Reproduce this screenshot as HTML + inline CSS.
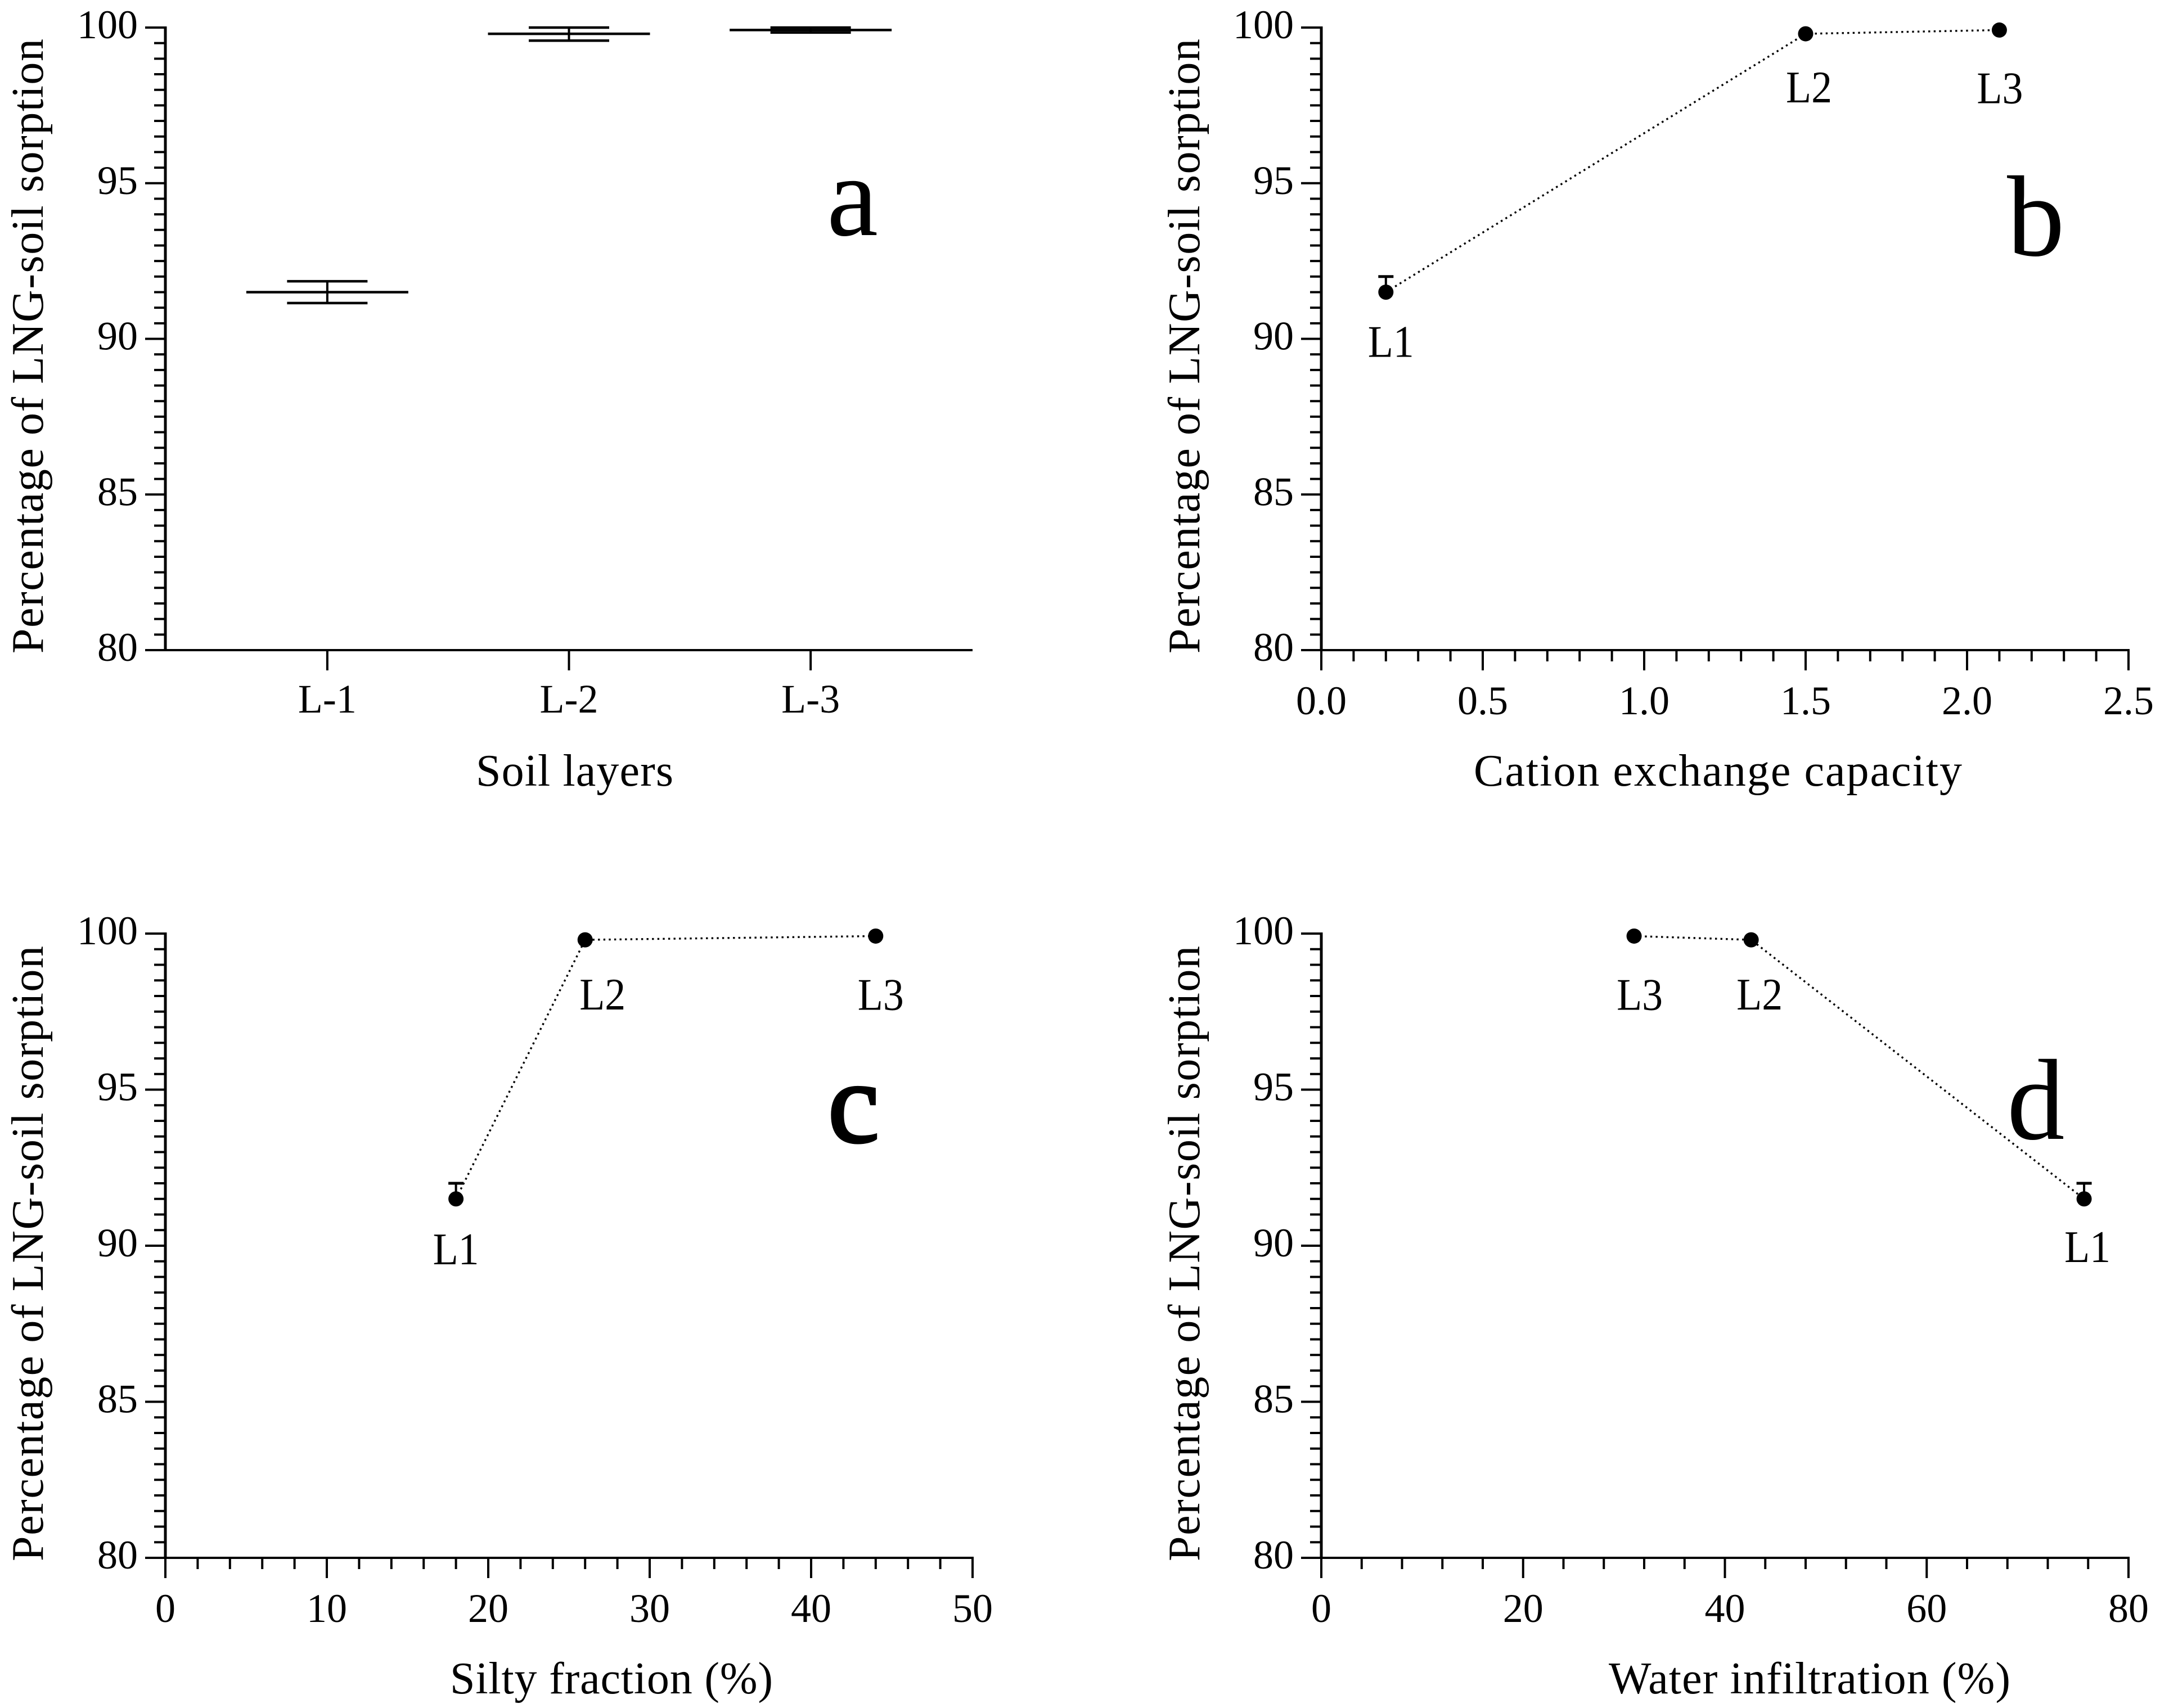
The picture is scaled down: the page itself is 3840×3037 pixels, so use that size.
<!DOCTYPE html>
<html lang="en">
<head>
<meta charset="utf-8">
<title>LNG-soil sorption charts</title>
<style>
html,body{margin:0;padding:0;background:#fff;}
svg{display:block;}
text{font-family:"Liberation Serif",serif;fill:#000;}
.tick-label{font-size:72px;}
.axis-title,.point-label{font-size:80px;}
.panel-letter{font-size:205px;}
</style>
</head>
<body>
<svg id="figure" xmlns="http://www.w3.org/2000/svg" width="3840" height="3037" viewBox="0 0 3840 3037">
<rect x="0" y="0" width="3840" height="3037" fill="#fff"/>

<g id="panel-a">
  <text class="axis-title" transform="translate(76,1162) rotate(-90)" textLength="1093" lengthAdjust="spacing">Percentage of LNG-soil sorption</text>
  <text class="axis-title" x="846" y="1397" textLength="351" lengthAdjust="spacing">Soil layers</text>
  <text class="panel-letter" x="1470" y="418">a</text>
</g>
<g id="panel-b">
  <text class="axis-title" transform="translate(2132,1162) rotate(-90)" textLength="1093" lengthAdjust="spacing">Percentage of LNG-soil sorption</text>
  <text class="axis-title" x="2620" y="1397" textLength="868" lengthAdjust="spacing">Cation exchange capacity</text>
  <text class="panel-letter" x="3568" y="454">b</text>
</g>
<g id="panel-c">
  <text class="axis-title" transform="translate(76,2776) rotate(-90)" textLength="1094" lengthAdjust="spacing">Percentage of LNG-soil sorption</text>
  <text class="axis-title" x="800" y="3011" textLength="574" lengthAdjust="spacing">Silty fraction (%)</text>
  <text class="panel-letter" x="1472" y="2030" stroke="#000" stroke-width="5">c</text>
</g>
<g id="panel-d">
  <text class="axis-title" transform="translate(2132,2776) rotate(-90)" textLength="1094" lengthAdjust="spacing">Percentage of LNG-soil sorption</text>
  <text class="axis-title" x="2860" y="3011" textLength="714" lengthAdjust="spacing">Water infiltration (%)</text>
  <text class="panel-letter" x="3568" y="2025">d</text>
</g>
</svg>

<script>
// ---- chart data ----
const yTickValues = [80, 85, 90, 95, 100];
const layerCategories = ['L-1', 'L-2', 'L-3'];
const layerMeans = [91.5, 99.8, 99.92];
const layerUpperCaps = [91.85, 100, 100];
const layerLowerCaps = [91.15, 99.58, 99.84];

const pointLabels = ['L1', 'L2', 'L3'];
const sorptionValues = [91.5, 99.8, 99.92];
const sorptionUpperErrors = [92, null, null];

const cationValues = [0.2, 1.5, 2.1];
const cationTicks = ['0.0', '0.5', '1.0', '1.5', '2.0', '2.5'];

const siltValues = [18, 26, 44];
const siltTicks = ['0', '10', '20', '30', '40', '50'];

const infiltrationValues = [75.6, 42.6, 31.0];
const infiltrationTicks = ['0', '20', '40', '60', '80'];

// ---- drawing ----
const NS = 'http://www.w3.org/2000/svg';
const AXIS_W = 4, MAJOR = 36, MINOR = 20;

function mk(parent, tag, attrs, txt) {
  const el = document.createElementNS(NS, tag);
  for (const k in attrs) el.setAttribute(k, attrs[k]);
  if (txt !== undefined) el.textContent = txt;
  parent.appendChild(el);
  return el;
}
function seg(parent, x1, y1, x2, y2, w) {
  return mk(parent, 'line', {x1: x1, y1: y1, x2: x2, y2: y2, stroke: '#000', 'stroke-width': w});
}

function drawAxes(g, box, xScale, xMajor, xLabels, xMinorPerMajor, yScale) {
  const axisY = seg(g, box.x0, box.yTop - AXIS_W / 2, box.x0, box.yBottom + AXIS_W / 2, 5);
  
  
  const axisX = seg(g, box.x0 - MAJOR, box.yBottom, box.x1 + (xMinorPerMajor ? AXIS_W / 2 : 0), box.yBottom, AXIS_W);
  
  

  // y ticks: major at each label, minor every half unit
  for (let i = 0; i < yTickValues.length; i++) {
    const v = yTickValues[i];
    const tick = seg(g, box.x0 - MAJOR, yScale(v), box.x0, yScale(v), AXIS_W);
    
    
    const label = mk(g, 'text', {class: 'tick-label', x: box.x0 - 49, y: yScale(v) + 19, 'text-anchor': 'end'}, String(v));
    
    
    if (i < yTickValues.length - 1) {
      const step = (yTickValues[i + 1] - v) / 10;
      for (let m = 1; m < 10; m++) {
        const minor = seg(g, box.x0 - MINOR, yScale(v + m * step), box.x0, yScale(v + m * step), AXIS_W);
        
        
      }
    }
  }
  // x ticks
  const labelDrop = xMinorPerMajor ? 114 : 111;
  for (let i = 0; i < xMajor.length; i++) {
    const px = xScale(xMajor[i]);
    const tick = seg(g, px, box.yBottom, px, box.yBottom + MAJOR, AXIS_W);
    
    
    const label = mk(g, 'text', {class: 'tick-label', x: px, y: box.yBottom + labelDrop, 'text-anchor': 'middle'}, xLabels[i]);
    
    
    if (xMinorPerMajor && i < xMajor.length - 1) {
      const step = (xMajor[i + 1] - xMajor[i]) / xMinorPerMajor;
      for (let m = 1; m < xMinorPerMajor; m++) {
        const mx = xScale(xMajor[i] + m * step);
        const minor = seg(g, mx, box.yBottom, mx, box.yBottom + MINOR, AXIS_W);
        
        
      }
    }
  }
}

function linear(d0, d1, r0, r1) {
  return function (v) { return r0 + (v - d0) / (d1 - d0) * (r1 - r0); };
}

// Panel a: mean bars with error caps
function drawPanelA() {
  const g = document.getElementById('panel-a');
  const box = {x0: 294, x1: 1729, yTop: 49, yBottom: 1156};
  const yScale = linear(80, 100, box.yBottom, box.yTop);
  const xScale = linear(0.33, 3.67, box.x0, box.x1);
  const positions = layerCategories.map(function (c, i) { return i + 1; });
  drawAxes(g, box, xScale, positions, layerCategories, 0, yScale);
  layerCategories.forEach(function (c, i) {
    const px = xScale(i + 1);
    const stem = seg(g, px, yScale(layerUpperCaps[i]), px, yScale(layerLowerCaps[i]), 4);
    
    
    const upper = seg(g, px - 71.5, yScale(layerUpperCaps[i]), px + 71.5, yScale(layerUpperCaps[i]), 4.5);
    
    
    const lower = seg(g, px - 71.5, yScale(layerLowerCaps[i]), px + 71.5, yScale(layerLowerCaps[i]), 4.5);
    
    
    const mean = seg(g, px - 144, yScale(layerMeans[i]), px + 144, yScale(layerMeans[i]), 4.5);
    
    
  });
}

// Panels b, c, d: dotted line with point markers
function drawPointPanel(id, box, xMax, xValues, xMajor, xLabels, labelOffsets) {
  const g = document.getElementById(id);
  const yScale = linear(80, 100, box.yBottom, box.yTop);
  const xScale = linear(0, xMax, box.x0, box.x1);
  drawAxes(g, box, xScale, xMajor, xLabels, 5, yScale);

  const order = xValues.map(function (v, i) { return i; }).sort(function (a, b) { return xValues[a] - xValues[b]; });
  const pts = order.map(function (i) { return xScale(xValues[i]) + ',' + yScale(sorptionValues[i]); }).join(' ');
  const line = mk(g, 'polyline', {points: pts, fill: 'none', stroke: '#000', 'stroke-width': 3.4, 'stroke-dasharray': '3.4 6.2'});
  
  

  xValues.forEach(function (v, i) {
    const px = xScale(v);
    const py = yScale(sorptionValues[i]);
    if (sorptionUpperErrors[i] !== null) {
      const stem = seg(g, px, yScale(sorptionUpperErrors[i]), px, py, 4);
      
      
      const cap = seg(g, px - 13.5, yScale(sorptionUpperErrors[i]), px + 13.5, yScale(sorptionUpperErrors[i]), 5);
      
      
    }
    const dot = mk(g, 'circle', {cx: px, cy: py, r: 13.5, fill: '#000'});
    
    
    const off = labelOffsets[i];
    const label = mk(g, 'text', {class: 'point-label', x: px + off[0], y: py + off[1], textLength: 82, lengthAdjust: 'spacingAndGlyphs'}, pointLabels[i]);
    
    
  });
}

drawPanelA();

drawPointPanel('panel-b', {x0: 2349, x1: 3784, yTop: 49, yBottom: 1156}, 2.5,
  cationValues, [0, 0.5, 1, 1.5, 2, 2.5], cationTicks,
  [[-32, 115], [-35, 122], [-40, 130]]);

drawPointPanel('panel-c', {x0: 294, x1: 1729, yTop: 1660, yBottom: 2770}, 50,
  siltValues, [0, 10, 20, 30, 40, 50], siltTicks,
  [[-41, 116], [-10, 124], [-32, 131]]);

drawPointPanel('panel-d', {x0: 2349, x1: 3784, yTop: 1660, yBottom: 2770}, 80,
  infiltrationValues, [0, 20, 40, 60, 80], infiltrationTicks,
  [[-35, 112], [-26, 124], [-31, 131]]);
</script>
</body>
</html>
